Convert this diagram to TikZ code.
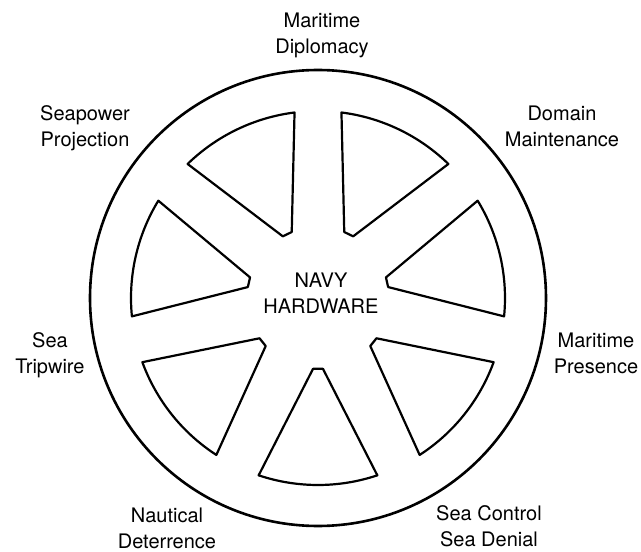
\documentclass[tikz,border=0pt]{standalone}
\usepackage{fontspec}
\setmainfont{TeX Gyre Heros}
\usetikzlibrary{positioning}

\begin{document}
\begin{tikzpicture}[x=1pt,y=1pt,
      rim/.style={line width=2.6pt},
      hole/.style={line width=2.2pt,line join=round},
      lbl/.style={align=center,inner sep=0pt,font=\fontsize{20}{26}\selectfont}]
    \useasboundingbox (-318,-254) rectangle (323,298);
    \coordinate (hub) at (0,0);
    \draw[rim] (hub) circle (228);
    % seven openings between the spokes
    \foreach \c [evaluate=\c as \a using \c-18.5,
                 evaluate=\c as \b using \c+18.5] in {-90,-38.57,12.86,64.29,115.71,167.14,218.57}
      \draw[hole] (\a:187) arc[start angle=\a,end angle=\b,radius=187]
                  -- (\c+4:71) -- (\c-4:71) -- cycle;
    \node[lbl] (hw) at (3,5) {NAVY\\HARDWARE};
    \node[lbl] (dipl) at (4,263) {Maritime\\Diplomacy};
    \node[lbl] (proj) at (-233,170) {Seapower\\Projection};
    \node[lbl] (dom) at (244,172) {Domain\\Maintenance};
    \node[lbl] (trip) at (-268,-57) {Sea\\Tripwire};
    \node[lbl] (pres) at (278,-55) {Maritime\\Presence};
    \node[lbl] (det) at (-151,-230) {Nautical\\Deterrence};
    \node[lbl] (ctrl) at (171,-228) {Sea Control\\Sea Denial};
  \end{tikzpicture}
\end{document}
